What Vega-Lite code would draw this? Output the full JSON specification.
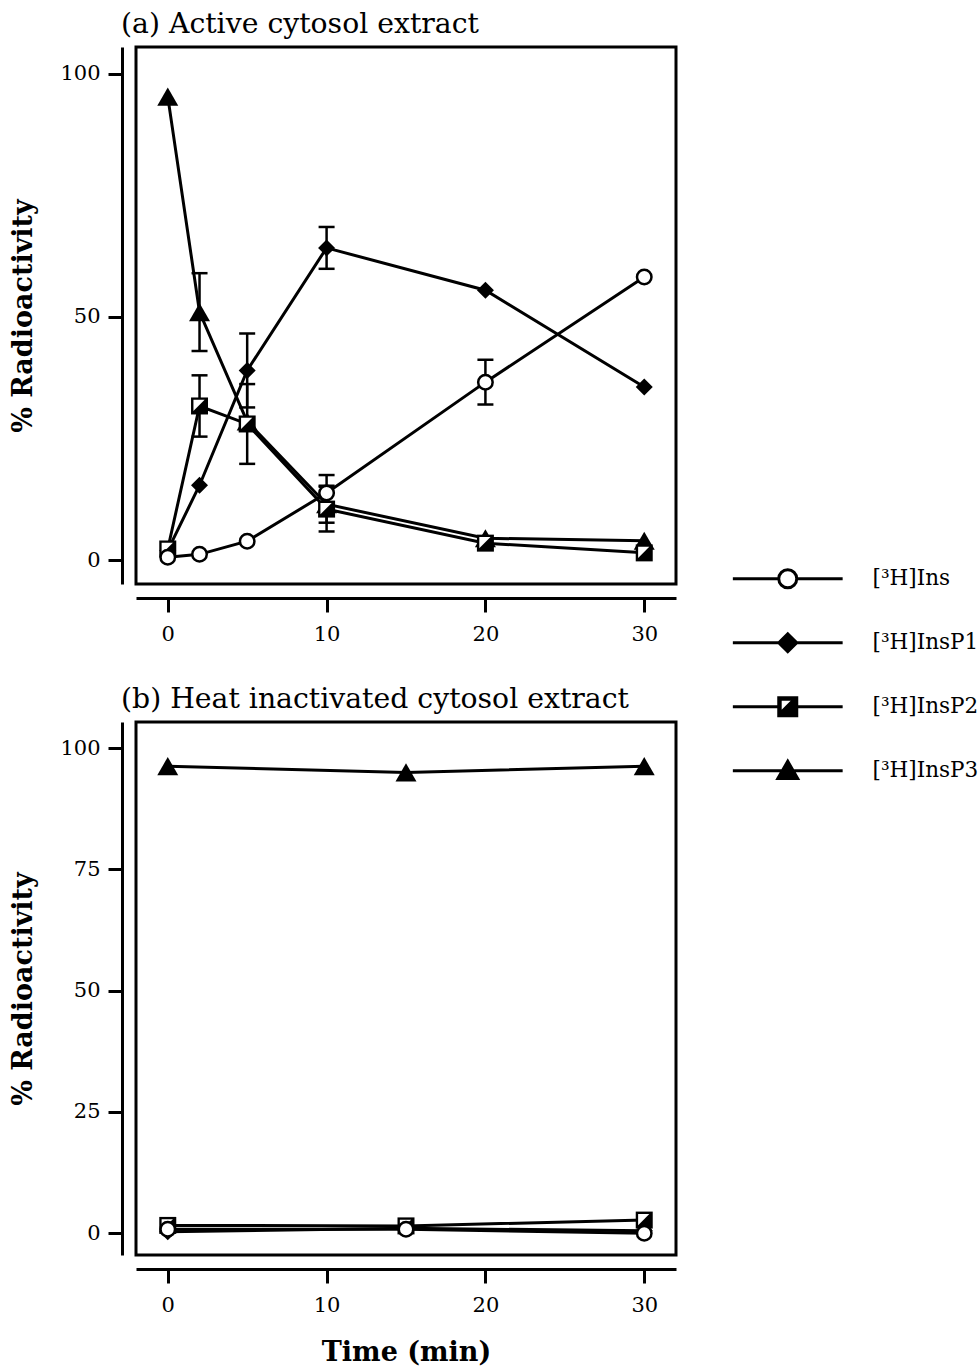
{
  "$schema": "https://vega.github.io/schema/vega-lite/v6.json",
  "background": "white",
  "padding": {"left": 8, "top": 8, "right": 2, "bottom": 5},
  "config": {
    "font": "DejaVu Serif",
    "view": {"stroke": "black", "strokeWidth": 3},
    "axis": {
      "grid": false,
      "domainColor": "black",
      "domainWidth": 3,
      "tickColor": "black",
      "tickWidth": 3,
      "tickSize": 14,
      "offset": 14,
      "labelFont": "DejaVu Serif",
      "labelFontSize": 21,
      "labelColor": "black",
      "labelPadding": 8,
      "titleFont": "DejaVu Serif",
      "titleFontSize": 27,
      "titleFontWeight": "bold",
      "titleColor": "black"
    },
    "axisX": {"labelPadding": 11},
    "title": {
      "font": "DejaVu Serif",
      "fontSize": 28.3,
      "fontWeight": "normal",
      "color": "black",
      "anchor": "start",
      "frame": "group",
      "dx": -15,
      "offset": 8
    }
  },
  "datasets": {
    "active": [
      {"series": "[³H]Ins", "t": 0, "v": 0.6},
      {"series": "[³H]Ins", "t": 2, "v": 1.2},
      {"series": "[³H]Ins", "t": 5, "v": 3.9},
      {"series": "[³H]Ins", "t": 10, "v": 13.8, "lo": 10.1, "hi": 17.5},
      {"series": "[³H]Ins", "t": 20, "v": 36.6, "lo": 32.0, "hi": 41.2},
      {"series": "[³H]Ins", "t": 30, "v": 58.2},
      {"series": "[³H]InsP1", "t": 0, "v": 2.0},
      {"series": "[³H]InsP1", "t": 2, "v": 15.4},
      {"series": "[³H]InsP1", "t": 5, "v": 39.0, "lo": 31.4, "hi": 46.6},
      {"series": "[³H]InsP1", "t": 10, "v": 64.2, "lo": 59.9, "hi": 68.5},
      {"series": "[³H]InsP1", "t": 20, "v": 55.5},
      {"series": "[³H]InsP1", "t": 30, "v": 35.6},
      {"series": "[³H]InsP2", "t": 0, "v": 2.3},
      {"series": "[³H]InsP2", "t": 2, "v": 31.7, "lo": 25.4, "hi": 38.0},
      {"series": "[³H]InsP2", "t": 5, "v": 28.0, "lo": 19.8, "hi": 36.2},
      {"series": "[³H]InsP2", "t": 10, "v": 10.5, "lo": 5.9, "hi": 15.1},
      {"series": "[³H]InsP2", "t": 20, "v": 3.5},
      {"series": "[³H]InsP2", "t": 30, "v": 1.5},
      {"series": "[³H]InsP3", "t": 0, "v": 95.3},
      {"series": "[³H]InsP3", "t": 2, "v": 51.0, "lo": 43.0, "hi": 59.0},
      {"series": "[³H]InsP3", "t": 5, "v": 28.5},
      {"series": "[³H]InsP3", "t": 10, "v": 11.5, "lo": 7.7, "hi": 15.3},
      {"series": "[³H]InsP3", "t": 20, "v": 4.5},
      {"series": "[³H]InsP3", "t": 30, "v": 4.0}
    ],
    "heat": [
      {"series": "[³H]Ins", "t": 0, "v": 0.8},
      {"series": "[³H]Ins", "t": 15, "v": 0.8},
      {"series": "[³H]Ins", "t": 30, "v": 0.0},
      {"series": "[³H]InsP1", "t": 0, "v": 0.3},
      {"series": "[³H]InsP1", "t": 15, "v": 1.0},
      {"series": "[³H]InsP1", "t": 30, "v": 0.5},
      {"series": "[³H]InsP2", "t": 0, "v": 1.6},
      {"series": "[³H]InsP2", "t": 15, "v": 1.5},
      {"series": "[³H]InsP2", "t": 30, "v": 2.7},
      {"series": "[³H]InsP3", "t": 0, "v": 96.3},
      {"series": "[³H]InsP3", "t": 15, "v": 95.0},
      {"series": "[³H]InsP3", "t": 30, "v": 96.3}
    ]
  },
  "resolve": {"scale": {"shape": "independent", "fill": "independent", "stroke": "independent"}},
  "bounds": "flush",
  "spacing": 138,
  "vconcat": [
    {
      "width": 540,
      "height": 537,
      "title": {"text": "(a) Active cytosol extract"},
      "data": {"name": "active"},
      "encoding": {
        "x": {
          "field": "t", "type": "quantitative", "title": null,
          "scale": {"domain": [-2, 32], "nice": false, "zero": false},
          "axis": {"values": [0, 10, 20, 30]}
        }
      },
      "layer": [
        {
          "mark": {"type": "line", "color": "black", "strokeWidth": 3},
          "encoding": {
            "y": {"field": "v", "type": "quantitative", "title": "% Radioactivity",
                  "scale": {"domain": [-4.9, 105.5], "nice": false, "zero": false},
                  "axis": {"values": [0, 50, 100], "titlePadding": 22}},
            "detail": {"field": "series"}
          }
        },
        {
          "transform": [{"filter": "isValid(datum.lo)"}],
          "mark": {"type": "rule", "color": "black", "strokeWidth": 2.5},
          "encoding": {
            "y": {"field": "lo", "type": "quantitative", "title": "% Radioactivity"},
            "y2": {"field": "hi"}
          }
        },
        {
          "transform": [{"filter": "isValid(datum.lo)"}],
          "mark": {"type": "tick", "orient": "horizontal", "color": "black", "size": 16, "thickness": 2.5, "opacity": 1},
          "encoding": {"y": {"field": "lo", "type": "quantitative", "title": "% Radioactivity"}}
        },
        {
          "transform": [{"filter": "isValid(datum.hi)"}],
          "mark": {"type": "tick", "orient": "horizontal", "color": "black", "size": 16, "thickness": 2.5, "opacity": 1},
          "encoding": {"y": {"field": "hi", "type": "quantitative", "title": "% Radioactivity"}}
        },
        {
          "transform": [{"filter": "datum.series === '[³H]InsP3'"}],
          "mark": {"type": "point", "shape": "triangle-up", "filled": true, "color": "black", "size": 440, "opacity": 1},
          "encoding": {"y": {"field": "v", "type": "quantitative", "title": "% Radioactivity"}}
        },
        {
          "transform": [{"filter": "datum.series === '[³H]InsP1'"}],
          "mark": {"type": "point", "shape": "diamond", "filled": true, "color": "black", "size": 289, "opacity": 1},
          "encoding": {"y": {"field": "v", "type": "quantitative", "title": "% Radioactivity"}}
        },
        {
          "transform": [{"filter": "datum.series === '[³H]InsP2'"}],
          "mark": {"type": "point", "shape": "square", "filled": true, "color": "black", "size": 289, "opacity": 1},
          "encoding": {"y": {"field": "v", "type": "quantitative", "title": "% Radioactivity"}}
        },
        {
          "transform": [{"filter": "datum.series === '[³H]InsP2'"}],
          "mark": {"type": "point", "shape": "M-0.72,-0.72H0.6L-0.72,0.6Z", "filled": true, "fill": "white", "strokeWidth": 0, "size": 289, "opacity": 1},
          "encoding": {"y": {"field": "v", "type": "quantitative", "title": "% Radioactivity"}}
        },
        {
          "transform": [{"filter": "datum.series === '[³H]Ins'"}],
          "mark": {"type": "point", "shape": "circle", "filled": true, "fill": "white", "stroke": "black", "strokeWidth": 2.5, "size": 210, "opacity": 1},
          "encoding": {"y": {"field": "v", "type": "quantitative", "title": "% Radioactivity"}}
        },
        {
          "transform": [{"filter": "datum.t < -100"}],
          "mark": {"type": "point", "strokeWidth": 3, "opacity": 1},
          "encoding": {
            "y": {"field": "v", "type": "quantitative", "title": "% Radioactivity"},
            "shape": {
              "field": "series", "type": "nominal",
              "scale": {
                "domain": ["[³H]Ins", "[³H]InsP1", "[³H]InsP2", "[³H]InsP3"],
                "range": [
                  "M-6.1,0L-1,0M1,0L6.1,0M1,0A1,1 0 1 1 -1,0A1,1 0 1 1 1,0Z",
                  "M-6.1,0L6.1,0M-1,0L0,-1L1,0L0,1Z",
                  "M-6.1,0L-1,0M1,0L6.1,0M-1,-1L1,-1L1,1L-1,1ZM-0.84,-0.84L-0.84,0.72L0.72,-0.84Z",
                  "M-6.1,0L6.1,0M0,-1.05L1.1,0.85L-1.1,0.85Z"
                ]
              },
              "legend": {
                "title": null, "orient": "none", "legendX": 641, "legendY": 521,
                "symbolSize": 324, "symbolStrokeWidth": 3,
                "labelFont": "DejaVu Serif", "labelFontSize": 21.5, "labelColor": "black",
                "labelOffset": 74, "rowPadding": 33
              }
            },
            "fill": {
              "field": "series", "type": "nominal",
              "scale": {
                "domain": ["[³H]Ins", "[³H]InsP1", "[³H]InsP2", "[³H]InsP3"],
                "range": ["white", "black", "black", "black"]
              },
              "legend": {
                "title": null, "orient": "none", "legendX": 641, "legendY": 521,
                "symbolSize": 324, "symbolStrokeWidth": 3,
                "labelFont": "DejaVu Serif", "labelFontSize": 21.5, "labelColor": "black",
                "labelOffset": 74, "rowPadding": 33
              }
            },
            "stroke": {
              "field": "series", "type": "nominal",
              "scale": {
                "domain": ["[³H]Ins", "[³H]InsP1", "[³H]InsP2", "[³H]InsP3"],
                "range": ["black", "black", "black", "black"]
              },
              "legend": {
                "title": null, "orient": "none", "legendX": 641, "legendY": 521,
                "symbolSize": 324, "symbolStrokeWidth": 3,
                "labelFont": "DejaVu Serif", "labelFontSize": 21.5, "labelColor": "black",
                "labelOffset": 74, "rowPadding": 33
              }
            }
          }
        }
      ]
    },
    {
      "width": 540,
      "height": 533,
      "title": {"text": "(b) Heat inactivated cytosol extract"},
      "data": {"name": "heat"},
      "encoding": {
        "x": {
          "field": "t", "type": "quantitative", "title": "Time (min)",
          "scale": {"domain": [-2, 32], "nice": false, "zero": false},
          "axis": {"values": [0, 10, 20, 30], "titlePadding": 24}
        },
        "y": {"field": "v", "type": "quantitative", "title": "% Radioactivity",
              "scale": {"domain": [-4.5, 105.4], "nice": false, "zero": false},
              "axis": {"values": [0, 25, 50, 75, 100], "titlePadding": 22}}
      },
      "layer": [
        {
          "mark": {"type": "line", "color": "black", "strokeWidth": 3},
          "encoding": {"detail": {"field": "series"}}
        },
        {
          "transform": [{"filter": "datum.series === '[³H]InsP3'"}],
          "mark": {"type": "point", "shape": "triangle-up", "filled": true, "color": "black", "size": 440, "opacity": 1}
        },
        {
          "transform": [{"filter": "datum.series === '[³H]InsP1'"}],
          "mark": {"type": "point", "shape": "diamond", "filled": true, "color": "black", "size": 289, "opacity": 1}
        },
        {
          "transform": [{"filter": "datum.series === '[³H]InsP2'"}],
          "mark": {"type": "point", "shape": "square", "filled": true, "color": "black", "size": 289, "opacity": 1}
        },
        {
          "transform": [{"filter": "datum.series === '[³H]InsP2'"}],
          "mark": {"type": "point", "shape": "M-0.72,-0.72H0.6L-0.72,0.6Z", "filled": true, "fill": "white", "strokeWidth": 0, "size": 289, "opacity": 1}
        },
        {
          "transform": [{"filter": "datum.series === '[³H]Ins'"}],
          "mark": {"type": "point", "shape": "circle", "filled": true, "fill": "white", "stroke": "black", "strokeWidth": 2.5, "size": 210, "opacity": 1}
        }
      ]
    }
  ]
}
